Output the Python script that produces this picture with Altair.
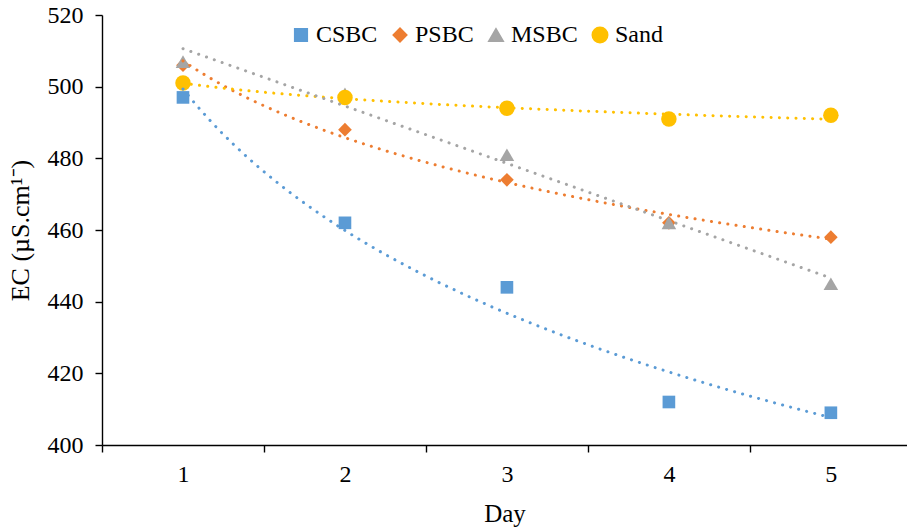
import altair as alt
import pandas as pd

days = [1, 2, 3, 4, 5]
series_names = ["CSBC", "PSBC", "MSBC", "Sand"]
csbc = [497, 462, 444, 412, 409]
psbc = [506, 488, 474, 462, 458]
msbc = [507, 498, 481, 462, 445]
sand = [501, 497, 494, 491, 492]

colors = ["#5B9BD5", "#ED7D31", "#A5A5A5", "#FFC000"]
shapes = ["square", "diamond", "triangle-up", "circle"]
sizes = [160, 240, 260, 235]
log_fit = ["CSBC", "PSBC", "Sand"]
lin_fit = ["MSBC"]

y_ticks = [400, 420, 440, 460, 480, 500, 520]
x_ticks = [0.5, 1, 1.5, 2, 2.5, 3, 3.5, 4, 4.5, 5]

rows = []
for name, vals in zip(series_names, [csbc, psbc, msbc, sand]):
    for d, v in zip(days, vals):
        rows.append({"day": d, "ec": v, "series": name})
df = pd.DataFrame(rows)

FONT = "Liberation Serif"

x_enc = alt.X(
    "day:Q",
    scale=alt.Scale(domain=[0.5, 5.47], nice=False, zero=False),
    axis=alt.Axis(
        values=x_ticks,
        labelExpr="datum.value % 1 === 0 ? format(datum.value, 'd') : ''",
        tickOpacity={"condition": {"test": "datum.value % 1 !== 0", "value": 1}, "value": 0},
        tickSize=7,
        labelPadding=10,
        title="Day",
        titlePadding=15,
        titleFontSize=25,
    ),
)
y_enc = alt.Y(
    "ec:Q",
    scale=alt.Scale(domain=[400, 520], nice=False, zero=False),
    axis=alt.Axis(values=y_ticks, tickSize=7, labelPadding=12,
                  title="EC (µS.cm¹⁻)", titlePadding=14, titleFontSize=26),
)

base = alt.Chart(df)

points = base.mark_point(filled=True, opacity=1).encode(
    x=x_enc,
    y=y_enc,
    color=alt.Color("series:N", scale=alt.Scale(domain=series_names, range=colors),
                    legend=alt.Legend(orient="none", direction="horizontal",
                                      legendX=187, legendY=8, title=None,
                                      labelFont=FONT, labelFontSize=24,
                                      labelColor="#000000",
                                      columnPadding=10, labelOffset=3)),
    shape=alt.Shape("series:N", scale=alt.Scale(domain=series_names, range=shapes)),
    size=alt.Size("series:N", scale=alt.Scale(domain=series_names, range=sizes)),
)

stroke_enc = alt.Stroke("series:N", scale=alt.Scale(domain=series_names, range=colors), legend=None)

log_lines = base.transform_filter(
    alt.FieldOneOfPredicate(field="series", oneOf=log_fit)
).transform_regression(
    "day", "ec", groupby=["series"], method="log"
).mark_line(strokeDash=[0.1, 8.2], strokeCap="round", strokeWidth=3).encode(
    x=x_enc, y=y_enc, stroke=stroke_enc
)

lin_lines = base.transform_filter(
    alt.FieldOneOfPredicate(field="series", oneOf=lin_fit)
).transform_regression(
    "day", "ec", groupby=["series"], method="linear"
).mark_line(strokeDash=[0.1, 8.2], strokeCap="round", strokeWidth=3).encode(
    x=x_enc, y=y_enc, stroke=stroke_enc
)

chart = alt.layer(points, log_lines, lin_lines).properties(
    width=805,
    height=430,
    autosize=alt.AutoSizeParams(type="none"),
    padding={"left": 102, "top": 15, "right": 0, "bottom": 87},
    background="white",
).configure(font=FONT).configure_view(stroke=None).configure_axis(
    grid=False,
    domainColor="#000000",
    domainWidth=1.4,
    tickColor="#000000",
    tickWidth=1.4,
    labelFont=FONT,
    labelFontSize=24,
    labelColor="#000000",
    titleFont=FONT,
    titleFontWeight="normal",
    titleColor="#000000",
).configure_legend(labelFont=FONT)

chart.save("out.html", embed_options={"renderer": "svg", "actions": False})
